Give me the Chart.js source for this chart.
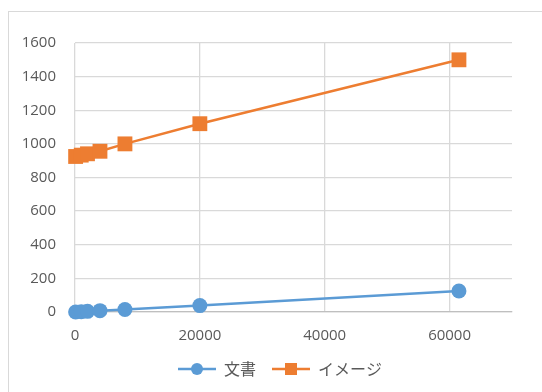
<!DOCTYPE html>
<html>
<head>
<meta charset="utf-8">
<script src="https://cdn.jsdelivr.net/npm/chart.js@4"></script>
<style>
  html, body { margin: 0; padding: 0; background: #fff; }
  #frame { position: absolute; left: 8px; top: 11px; width: 540px; height: 390px; border: 1px solid #d9d9d9; }
  #wrap { position: absolute; left: 0; top: 0; width: 542px; height: 392px; }
</style>
</head>
<body>
<div id="frame"></div>
<div id="wrap"><canvas id="chart" width="542" height="392"></canvas></div>
<script>
// file size vs time
const sizes = [100, 1000, 2000, 4000, 8000, 20000, 61500];
const docValues = [0, 2, 4, 8, 15, 38, 125];
const imageValues = [925, 933, 941, 956, 1000, 1120, 1500];
const seriesNames = ['文書', 'イメージ'];
const xTicks = [0, 20000, 40000, 60000];

const blue = '#5b9bd5';
const orange = '#ed7d31';

// legend icon: short line with the marker on it (6px blank on the left as spacing)
function legendIcon(color, shape) {
    const c = document.createElement('canvas');
    c.width = 44; c.height = 14;
    const g = c.getContext('2d');
    g.strokeStyle = color;
    g.lineWidth = 2.5;
    g.beginPath(); g.moveTo(6, 7); g.lineTo(44, 7); g.stroke();
    g.fillStyle = color;
    if (shape === 'circle') {
        g.beginPath(); g.arc(25, 7, 6, 0, Math.PI * 2); g.fill();
    } else {
        g.fillRect(19, 1, 12, 12);
    }
    return c;
}
const icons = [legendIcon(blue, 'circle'), legendIcon(orange, 'rect')];

const ctx = document.getElementById('chart').getContext('2d');
const numFont = { family: '"Open Sans", sans-serif', size: 15 };

new Chart(ctx, {
    type: 'scatter',
    data: {
        datasets: [{
            label: seriesNames[0],
            data: sizes.map((x, i) => ({ x: x, y: docValues[i] })),
            showLine: true,
            clip: false,
            borderColor: blue,
            backgroundColor: blue,
            borderWidth: 2.5,
            pointStyle: 'circle',
            pointRadius: 7.5,
            pointHoverRadius: 7.5,
            pointBorderWidth: 0
        }, {
            label: seriesNames[1],
            data: sizes.map((x, i) => ({ x: x, y: imageValues[i] })),
            showLine: true,
            clip: false,
            borderColor: orange,
            backgroundColor: orange,
            borderWidth: 2.5,
            pointStyle: 'rect',
            pointRadius: 10.5,
            pointHoverRadius: 10.5,
            pointBorderWidth: 0
        }]
    },
    options: {
        responsive: false,
        animation: false,
        layout: { padding: { top: 43, left: 18, right: 6, bottom: 5 } },
        scales: {
            x: {
                type: 'linear',
                min: 0,
                max: 70000,
                afterBuildTicks: s => { s.ticks = xTicks.map(v => ({ value: v })); },
                afterFit: s => { s.height = 39; },
                ticks: { color: '#595959', font: numFont, padding: 15, maxRotation: 0, callback: v => String(v) },
                grid: { color: '#d9d9d9', lineWidth: 1.3, drawTicks: false },
                border: { color: '#bfbfbf', width: 1.3 }
            },
            y: {
                min: 0,
                max: 1600,
                afterFit: s => { s.width = 57; },
                ticks: { stepSize: 200, color: '#595959', font: numFont, padding: 19, callback: v => String(v) },
                grid: { color: '#d9d9d9', lineWidth: 1.3, drawTicks: false },
                border: { display: false }
            },
            y2: {
                position: 'right',
                afterFit: s => { s.width = 24; },
                ticks: { display: false },
                grid: { display: false, drawTicks: false },
                border: { display: false }
            }
        },
        plugins: {
            tooltip: { enabled: false },
            legend: {
                position: 'bottom',
                labels: {
                    usePointStyle: true,
                    pointStyleWidth: 44,
                    padding: 10,
                    color: '#595959',
                    font: { family: '"Noto Sans CJK JP", sans-serif', size: 16 },
                    generateLabels: chart => chart.data.datasets.map((d, i) => ({
                        text: d.label,
                        pointStyle: icons[i],
                        fillStyle: d.borderColor,
                        strokeStyle: d.borderColor,
                        lineWidth: 0,
                        fontColor: '#595959',
                        hidden: false,
                        datasetIndex: i
                    }))
                }
            }
        }
    }
});
</script>
</body>
</html>
